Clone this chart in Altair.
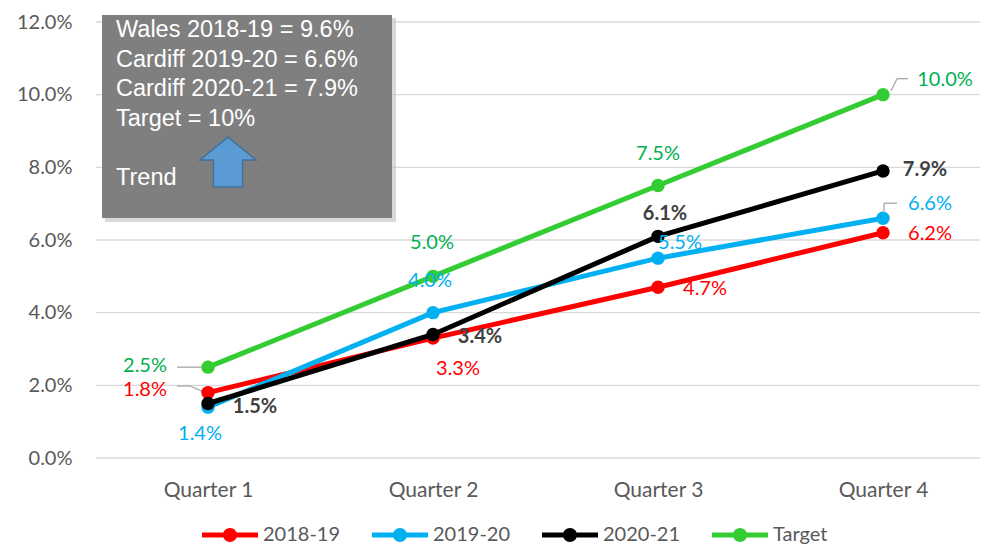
import altair as alt
import pandas as pd

quarters = ["Quarter 1", "Quarter 2", "Quarter 3", "Quarter 4"]
series = ["2018-19", "2019-20", "2020-21", "Target"]
v2018 = [1.8, 3.3, 4.7, 6.2]
v2019 = [1.4, 4.0, 5.5, 6.6]
v2020 = [1.5, 3.4, 6.1, 7.9]
target = [2.5, 5.0, 7.5, 10.0]
y_ticks = [0, 2, 4, 6, 8, 10, 12]
box_lines = ["Wales 2018-19 = 9.6%", "Cardiff 2019-20 = 6.6%",
             "Cardiff 2020-21 = 7.9%", "Target = 10%", "", "Trend"]

values = [v2018, v2019, v2020, target]

# styles
line_colors = ["#ff0000", "#00b0f0", "#000000", "#33cc33"]
label_colors = ["#ff0000", "#00b0f0", "#404040", "#00b050"]
label_bold = [False, False, True, False]
label_offsets = [
    [(-63, -3), (25, 31), (47, 2), (47, 1)],
    [(-8, 27), (-3, -32), (22, -15), (47, -14)],
    [(47, 3), (47, 3), (7, -22), (42, -1)],
    [(-63, -1), (-1, -33), (0, -32), (62, -15)],
]
leaders = [
    (0, 0, [(-31, -6.6, -18, -6.6), (-18, -6.6, -5, -1)]),
    (3, 0, [(-31, 0, -7, 0)]),
    (3, 3, [(8, -4, 14, -16), (14, -16, 25, -16)]),
    (1, 3, [(1, -7, 1, -15), (1, -15, 14, -15)]),
]

rows = []
for s, vals in zip(series, values):
    for q, v in zip(quarters, vals):
        rows.append({"quarter": q, "series": s, "value": v / 100.0})
df = pd.DataFrame(rows)

W, H = 884, 436
FONT = "Lato"
xenc = alt.X("quarter:N", sort=quarters,
             scale=alt.Scale(type="point", range=[112, 787], padding=0),
             axis=alt.Axis(title=None, labelFontSize=21, labelPadding=21,
                           labelColor="#595959", labelFont=FONT, domain=False,
                           ticks=False, grid=False, labelAngle=0))
yenc = alt.Y("value:Q",
             scale=alt.Scale(domain=[0, 0.12], nice=False, zero=True),
             axis=alt.Axis(title=None, values=[t / 100 for t in y_ticks],
                           format=".1%", labelFontSize=20, labelColor="#595959",
                           labelFont=FONT, labelPadding=24, domain=False,
                           ticks=False, grid=False))

legend_shape = ("M-2,-0.18 L2,-0.18 L2,0.18 L-2,0.18 Z "
                "M-0.5,0 A0.5,0.5 0 1,1 0.5,0 A0.5,0.5 0 1,1 -0.5,0 Z")
color = alt.Color("series:N", sort=series,
                  scale=alt.Scale(domain=series, range=line_colors),
                  legend=alt.Legend(title=None, orient="none", legendX=120,
                                    legendY=499, direction="horizontal",
                                    symbolType=legend_shape, symbolSize=784,
                                    symbolStrokeWidth=0, labelFontSize=20,
                                    labelFont=FONT, labelColor="#595959",
                                    labelOffset=19, columnPadding=31,
                                    symbolOpacity=1))

base = alt.Chart(df)
layers = []

# gridlines across the full plot width
grid_df = pd.DataFrame({"value": [t / 100 for t in y_ticks]})
layers.append(alt.Chart(grid_df).mark_rule(
    color="#d9d9d9", strokeWidth=1.3).encode(
    y=yenc, x=alt.value(0), x2=alt.value(W)))

# text box
layers.append(alt.Chart(pd.DataFrame({"a": [0]})).mark_rect(
    color="#bfbfbf", opacity=0.6).encode(
    x=alt.value(9), x2=alt.value(300), y=alt.value(-4), y2=alt.value(200)))
layers.append(alt.Chart(pd.DataFrame({"a": [0]})).mark_rect(
    color="#7f7f7f").encode(
    x=alt.value(6), x2=alt.value(296), y=alt.value(-7), y2=alt.value(196)))
for i, t in enumerate(box_lines):
    if not t:
        continue
    layers.append(alt.Chart(pd.DataFrame({"t": [t]})).mark_text(
        font="Liberation Sans", fontSize=23.5, color="white", align="left",
        baseline="middle").encode(
        x=alt.value(20), y=alt.value(8 + 29.5 * i), text="t:N"))
arrow = ("M0,-0.89 L1,-0.07 L0.52,-0.07 L0.52,0.89 L-0.52,0.89 "
         "L-0.52,-0.07 L-1,-0.07 Z")
layers.append(alt.Chart(pd.DataFrame({"a": [0]})).mark_point(
    shape=arrow, size=3136, filled=True, fill="#5b9bd5", stroke="#41719c",
    strokeWidth=1.5, opacity=1).encode(x=alt.value(132), y=alt.value(140)))

# leader lines
for si, qi, segs in leaders:
    d = pd.DataFrame([{"quarter": quarters[qi], "value": values[si][qi] / 100}])
    for (x1, y1, x2, y2) in segs:
        layers.append(alt.Chart(d).mark_rule(
            color="#a6a6a6", strokeWidth=1.3, xOffset=x1, x2Offset=x2,
            yOffset=y1, y2Offset=y2).encode(
            x=xenc, x2="quarter:N", y=yenc, y2="value:Q"))

# series lines and points
for s in series:
    sub = base.transform_filter(alt.datum.series == s)
    layers.append(sub.mark_line(strokeWidth=5).encode(
        x=xenc, y=yenc, color=color))
    layers.append(sub.mark_point(size=180, filled=True, opacity=1).encode(
        x=xenc, y=yenc, color=color))

# data labels
for si, s in enumerate(series):
    for qi, q in enumerate(quarters):
        v = values[si][qi]
        d = pd.DataFrame([{"quarter": q, "value": v / 100,
                           "label": f"{v:.1f}%"}])
        dx, dy = label_offsets[si][qi]
        layers.append(alt.Chart(d).mark_text(
            dx=dx, dy=dy, font=FONT, fontSize=20,
            fontWeight="bold" if label_bold[si] else "normal",
            color=label_colors[si], align="center",
            baseline="middle").encode(x=xenc, y=yenc, text="label:N"))

chart = alt.layer(*layers).properties(
    width=W, height=H, autosize="none",
    padding={"left": 88, "top": 14, "right": 0, "bottom": 89},
    background="white",
).configure_view(stroke=None)

chart.save("out.html", embed_options={"renderer": "svg", "actions": False})
